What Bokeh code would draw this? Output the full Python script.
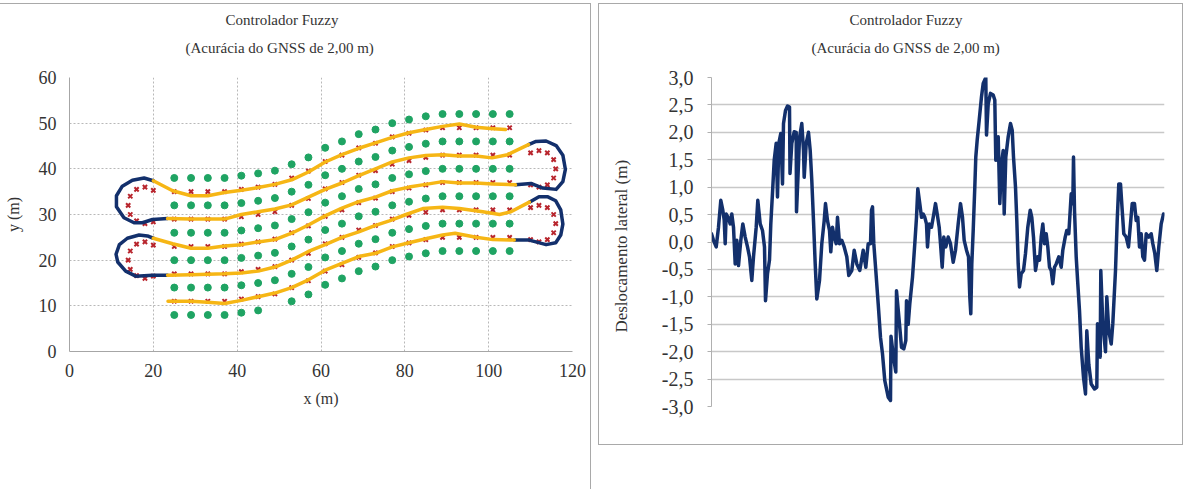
from bokeh.plotting import figure
from bokeh.models import Range1d, FixedTicker, Legend, LegendItem, Title, Div
from bokeh.layouts import column, row
from bokeh.embed import file_html
from bokeh.resources import INLINE

# ---------------- DATA: chart (a) ----------------
tree_cols = [25, 29, 33, 37, 41, 45, 49, 53, 57, 61, 65, 69, 73, 77, 81, 85, 89, 93, 97, 101, 105]
tree_cols_row1 = [25, 29, 33, 37, 41, 45, 53, 57, 61, 65, 69, 73, 77, 81, 85, 89, 93, 97, 101, 105]
trees_row1 = [8, 8, 8, 8, 8.5, 9, 11, 12.5, 14.6, 16, 17.6, 18.6, 20, 20.8, 21.5, 22, 22, 22, 22, 22]
trees_row2 = [14, 14, 14, 14, 14.5, 15, 15.6, 17, 18.5, 20.6, 22, 23.6, 24.6, 26, 26.8, 27.5, 28, 28, 28, 28, 28]
trees_row3 = [20, 20, 20, 20, 20.5, 21, 21.6, 23, 24.5, 26.6, 28, 29.6, 30.6, 32, 32.8, 33.5, 34, 34, 34, 34, 34]
trees_row4 = [26, 26, 26, 26, 26.5, 27, 27.6, 29, 30.5, 32.6, 34, 35.6, 36.6, 38, 38.8, 39.5, 40, 40, 40, 40, 40]
trees_row5 = [32, 32, 32, 32, 32.5, 33, 33.6, 35, 36.5, 38.6, 40, 41.6, 42.6, 44, 44.8, 45.5, 46, 46, 46, 46, 46]
trees_row6 = [38, 38, 38, 38, 38.5, 39, 39.6, 41, 42.5, 44.6, 46, 47.6, 48.6, 50, 50.8, 51.5, 52, 52, 52, 52, 52]

ideal_row1 = [11, 11, 11, 11, 11.5, 12, 12.6, 14, 15.5, 17.6, 19, 20.6, 21.6, 23, 23.8, 24.5, 25, 25, 25, 25, 25]
ideal_row2 = [17, 17, 17, 17, 17.5, 18, 18.6, 20, 21.5, 23.6, 25, 26.6, 27.6, 29, 29.8, 30.5, 31, 31, 31, 31, 31]
ideal_row3 = [23, 23, 23, 23, 23.5, 24, 24.6, 26, 27.5, 29.6, 31, 32.6, 33.6, 35, 35.8, 36.5, 37, 37, 37, 37, 37]
ideal_row4 = [29, 29, 29, 29, 29.5, 30, 30.6, 32, 33.5, 35.6, 37, 38.6, 39.6, 41, 41.8, 42.5, 43, 43, 43, 43, 43]
ideal_row5 = [35, 35, 35, 35, 35.5, 36, 36.6, 38, 39.5, 41.6, 43, 44.6, 45.6, 47, 47.8, 48.5, 49, 49, 49, 49, 49]
turn_left_x = [20, 18, 16, 14.5, 14, 14.5, 16, 18, 20]
turn_left1_y = [16.5, 16, 16.6, 18, 20, 22, 23.5, 24, 23.3]
turn_left2_y = [28.4, 28, 28.6, 30, 32, 34, 35.5, 36, 35.3]
turn_right_x = [110, 112, 114, 115.5, 116, 115.5, 114, 112, 110]
turn_right1_y = [24.5, 24, 24.5, 26, 28, 30, 31.5, 32, 31.5]
turn_right2_y = [36.5, 36, 36.5, 38, 40, 42, 43.5, 44, 43.5]

# Path Tracking (headland turns)
pt_r1_x = [106.1, 109.7, 113.7, 116, 117.2, 117.7, 117.2, 116, 114, 112, 109.7]
pt_r1_y = [24.4, 24.4, 23.4, 23.8, 25.5, 27.9, 31, 33, 33.9, 33.9, 32.7]
pt_l1_x = [23.4, 19.8, 15.8, 13.4, 11.5, 11.1, 11.9, 13.8, 16.6, 18.6, 20]
pt_l1_y = [16.7, 16.7, 16.5, 17.6, 19.6, 21.3, 23.4, 24.8, 25.5, 25.3, 24.8]
pt_r2_x = [106.4, 110.1, 112.9, 116.1, 117.7, 118.3, 117.7, 116.1, 113.7, 111.3, 109.5]
pt_r2_y = [36.5, 36.8, 35.8, 35.5, 37.2, 39.9, 43, 45.1, 46.1, 46, 45.3]
pt_l2_x = [23.4, 19.8, 17.4, 15.4, 13, 11.2, 11.2, 12.6, 15, 17.8, 20]
pt_l2_y = [29.1, 28.9, 28.2, 28.2, 29.3, 31.7, 34.1, 36.2, 37.5, 38, 37.4]

# Crop Feeler (inside the rows)
cf_a_x = [23.5, 29, 33, 37, 41, 45, 49, 53, 57, 61, 65, 69, 73, 77, 81, 85, 89, 92, 97, 101, 106.1]
cf_a_y = [11, 11, 10.8, 10.5, 11.2, 12, 12.8, 14, 15.7, 17.8, 19.3, 20.8, 21.5, 22.9, 23.8, 24.7, 25.5, 25.9, 25, 24.5, 24.4]
cf_b_x = [109.7, 105.3, 102.6, 98.6, 93, 89, 84.3, 80.3, 76.3, 73, 69, 65, 61, 57, 53, 49, 45, 41, 37, 33, 29, 23.4]
cf_b_y = [32.7, 30.6, 30, 30.6, 31.3, 31.6, 31.3, 30, 28.6, 27.6, 26.2, 25, 23.4, 21.9, 20, 18.5, 17.6, 17.2, 17, 16.9, 16.8, 16.7]
cf_c_x = [20, 24.6, 29, 33, 37, 41, 45, 49, 53, 57, 61, 65, 69, 73, 77, 81, 85, 89, 93, 97, 101, 106.4]
cf_c_y = [24.8, 23.6, 22.6, 22.6, 23.1, 23.4, 24, 24.5, 25.9, 27.7, 29.7, 31.4, 32.8, 33.8, 35.2, 36, 36.6, 37.2, 36.9, 36.9, 36.7, 36.5]
cf_d_x = [109.5, 104.5, 100.8, 97, 93, 89, 85, 81, 77, 73, 69, 65, 61, 57, 53, 49, 45, 41, 37, 33, 29, 23.4]
cf_d_y = [45.3, 43.1, 42.4, 42.8, 42.8, 43.1, 42.9, 42.4, 41.5, 40, 38.5, 36.9, 35.5, 33.8, 32.1, 31.2, 30.6, 30, 29, 29, 29, 29.1]
cf_e_x = [20, 24.6, 29, 33, 37, 41, 45, 49, 53, 57, 61, 65, 69, 73, 77, 81, 85, 89, 93, 97, 101, 104]
cf_e_y = [37.4, 35.2, 34.1, 34.1, 34.8, 35.3, 35.9, 36.6, 37.6, 39.3, 41.5, 43.1, 44.5, 45.7, 46.9, 47.9, 48.6, 49.3, 49.8, 49.1, 48.8, 48.6]

x_ticks_a = [0, 20, 40, 60, 80, 100, 120]
y_ticks_a = [0, 10, 20, 30, 40, 50, 60]
legend_labels_a = ["Árvores", "Caminho ideal", "Path Tracking", "Crop Feeler"]

# ---------------- DATA: chart (b) ----------------
amostra = [0, 2, 4.7, 7, 9.3, 11.3, 12.7, 13.7, 14.7, 17, 18.7, 20.3, 22, 23.7, 25.3, 27, 29.3, 31.3, 33.7, 36,
           38, 40.3, 42, 44.7, 46.3, 48.7, 51, 53, 54, 56, 58, 59.3, 61.3, 62.7, 64.7, 66, 67.3, 69.3, 71, 72,
           74, 76, 78, 78.5, 80.3, 82.7, 84.7, 85, 86.5, 88, 90.3, 92, 92.7, 94.7, 97, 98.7, 100.3, 102, 103.7, 105.3,
           108, 110.3, 112.7, 114, 116, 118, 119.3, 121, 122.7, 124.7, 126, 128, 130.3, 132.7, 135.3, 137.3, 140.3, 142.7, 145.3, 148.3,
           151.7, 154.3, 156.7, 159, 160, 161, 162.3, 164.3, 166.7, 169, 171, 173.3, 176.7, 179, 179.5, 182, 184.3, 185, 188, 190,
           192.3, 194.3, 195, 196.7, 198.3, 201, 203.3, 205, 206.3, 208.3, 210, 211.7, 213.3, 215, 216, 217.7, 220, 222.3, 224, 225.7,
           227.7, 229, 230.7, 232.3, 234.3, 236.7, 239, 241.7, 244, 246.7, 249, 251, 252.7, 255, 257, 258.3, 259.3, 260.3, 261.7, 263.3,
           264.3, 265.7, 267.7, 270, 271.7, 274.3, 275, 276.7, 279, 281.7, 283.3, 284.3, 286.7, 288.3, 290, 291.7, 292.7, 294.3, 296.7, 299,
           300.7, 302, 304, 305.3, 306.7, 308, 309.7, 312, 314, 316.3, 318.7, 320.3, 322, 324, 326.3, 328, 329.7, 331.3, 333, 334.7,
           336.3, 338, 339.7, 341.3, 343, 344.7, 347.3, 349.7, 351.3, 353.7, 355.3, 357.3, 359.7, 361.3, 362, 363, 364.7, 366.3, 368, 369.7,
           372, 374, 375.3, 377.3, 379.7, 383, 385.3, 386, 388, 388.7, 389.3, 391.3, 394, 395.3, 397.3, 399.7, 401.3, 404, 405.7, 407.3,
           409, 410.7, 412.3, 414.7, 417, 418.7, 420.7, 423, 424.7, 426.3, 428, 429.7, 431.3, 433, 434.7, 437.3, 439.7, 441.3, 443.3, 445.3,
           447.3, 449.7, 452]
deslocamento = [0.15, 0.03, -0.09, 0.27, 0.76, 0.58, 0.40, -0.03, 0.51, 0.43, 0.33, 0.51, 0.27, -0.40, 0.03, -0.43, 0.03, 0.33, 0.09, -0.09,
                -0.27, -0.70, -0.27, 0.27, 0.76, 0.33, 0.21, -0.09, -1.07, -0.58, -0.33, 0.33, 1.0, 1.49, 1.80, 0.82, 1.80, 1.98, 1.06, 2.16,
                2.40, 2.48, 2.46, 1.25, 1.80, 2.01, 2.0, 0.55, 1.2, 1.9, 2.16, 1.67, 1.18, 1.80, 2.0, 1.67, 1.12, 0.39, -0.40, -1.04,
                -0.70, -0.03, 0.39, 0.70, 0.39, 0.21, -0.18, 0.27, 0.09, -0.03, 0.45, -0.03, 0.03, -0.09, -0.27, -0.61, -0.52, -0.15, -0.40, -0.52,
                -0.15, -0.46, -0.03, -0.03, 0.58, 0.64, -0.03, -0.52, -1.13, -1.74, -2.04, -2.53, -2.83, -2.89, -1.72, -2.10, -2.37, -0.89, -1.50, -1.92,
                -1.95, -1.80, -1.07, -1.50, -1.13, -0.64, -0.03, 0.45, 0.97, 0.70, 0.45, 0.51, 0.45, 0.33, -0.09, 0.33, 0.27, 0.51, 0.70, 0.51,
                0.27, -0.03, -0.46, 0.09, -0.09, 0.09, -0.03, -0.37, -0.15, 0.33, 0.70, 0.45, 0.03, -0.15, -0.27, -1.0, -1.31, -0.40, 0.21, 1.0,
                1.55, 1.86, 2.22, 2.65, 2.89, 3.0, 1.95, 2.52, 2.71, 2.68, 2.59, 1.49, 1.92, 0.70, 1.43, 1.67, 0.51, 1.55, 1.92, 2.16,
                2.04, 1.55, 1.0, 0.39, -0.40, -0.82, -0.58, -0.52, -0.21, 0.27, 0.58, 0.45, 0.09, -0.52, -0.27, -0.33, 0.09, 0.33, -0.03, 0.15,
                -0.09, -0.46, -0.52, -0.76, -0.46, -0.40, -0.27, -0.46, -0.15, 0.09, 0.21, 0.15, 0.88, 0.70, 1.55, 0.58, -0.27, -0.76, -1.25, -1.92,
                -2.47, -2.77, -1.62, -2.23, -2.59, -2.68, -2.65, -1.49, -1.92, -2.10, -0.52, -1.49, -2.0, -1.0, -1.62, -1.86, -1.49, -0.52, 0.39, 1.06,
                1.06, 0.58, 0.15, 0.09, -0.09, 0.27, 0.70, 0.70, 0.39, 0.45, -0.09, 0.15, -0.27, -0.33, 0.15, 0.09, 0.15, -0.03, -0.21, -0.52,
                -0.09, 0.33, 0.51]
y_ticks_b = [-3.0, -2.5, -2.0, -1.5, -1.0, -0.5, 0.0, 0.5, 1.0, 1.5, 2.0, 2.5, 3.0]
y_tick_labels_b = ["-3,0", "-2,5", "-2,0", "-1,5", "-1,0", "-0,5", "0,0", "0,5", "1,0", "1,5", "2,0", "2,5", "3,0"]

title_line1 = "Controlador Fuzzy"
title_line2 = "(Acurácia  do  GNSS de 2,00 m)"

# ---------------- STYLE ----------------
SERIF = "Liberation Serif"
TXT = "#333333"
GREEN = "#1fa463"
RED = "#b8252d"
NAVY = "#13306c"
YELLOW = "#f6b615"
BOX = {"outline": "1px solid #a9a9a9", "outline-offset": "0px"}


def add_titles(p, off1, off2):
    spacer = Title(text=" ", align="left", text_font=SERIF, text_font_size="5px")
    t2 = Title(text=title_line2, align="left", offset=off2, text_font=SERIF,
               text_font_size="15px", text_font_style="normal", text_color=TXT)
    t1 = Title(text=title_line1, align="left", offset=off1, text_font=SERIF,
               text_font_size="15px", text_font_style="normal", text_color=TXT)
    p.add_layout(spacer, "above")
    p.add_layout(t2, "above")
    p.add_layout(t1, "above")


# ---------------- FIGURE (a) ----------------
pa = figure(frame_width=503, frame_height=274, x_range=Range1d(0, 120), y_range=Range1d(0, 60),
            output_backend="svg", toolbar_location=None, title=None,
            min_border_left=69, min_border_right=18, min_border_top=73, min_border_bottom=93)
pa.outline_line_color = None
pa.styles = BOX
add_titles(pa, 156, 116)

for ax in (pa.xaxis, pa.yaxis):
    ax.axis_line_color = "#a6a6a6"
    ax.major_tick_line_color = None
    ax.minor_tick_line_color = None
    ax.major_tick_out = 0
    ax.major_label_text_font = SERIF
    ax.major_label_text_font_size = "18px"
    ax.major_label_text_color = TXT
    ax.axis_label_text_font = SERIF
    ax.axis_label_text_font_size = "16px"
    ax.axis_label_text_font_style = "normal"
    ax.axis_label_text_color = TXT
pa.xaxis.ticker = FixedTicker(ticks=x_ticks_a)
pa.yaxis.ticker = FixedTicker(ticks=y_ticks_a)
pa.xaxis.axis_label = "x (m)"
pa.yaxis.axis_label = "y (m)"
pa.xaxis.major_label_standoff = 12
pa.yaxis.major_label_standoff = 13
pa.xaxis.axis_label_standoff = 10
pa.yaxis.axis_label_standoff = 14
for g in (pa.xgrid, pa.ygrid):
    g.grid_line_color = "#b8b8b8"
    g.grid_line_dash = "2 2"
    g.grid_line_width = 1

tree_x = tree_cols_row1 + tree_cols * 5
tree_y = trees_row1 + trees_row2 + trees_row3 + trees_row4 + trees_row5 + trees_row6
r_trees = pa.scatter(tree_x, tree_y, marker="circle", size=7, fill_color=GREEN, line_color=GREEN)

ideal_x = tree_cols * 5 + turn_left_x * 2 + turn_right_x * 2
ideal_y = (ideal_row1 + ideal_row2 + ideal_row3 + ideal_row4 + ideal_row5
           + turn_left1_y + turn_left2_y + turn_right1_y + turn_right2_y)
r_ideal = pa.scatter(ideal_x, ideal_y, marker="x", size=6, line_color=RED, line_width=2)

pt_sets = [(pt_r1_x, pt_r1_y), (pt_l1_x, pt_l1_y), (pt_r2_x, pt_r2_y), (pt_l2_x, pt_l2_y)]
for xs, ys in pt_sets:
    pa.line(xs, ys, line_color=NAVY, line_width=3.5, line_join="round", line_cap="round")
r_pt = pa.scatter(sum([s[0] for s in pt_sets], []), sum([s[1] for s in pt_sets], []),
                  marker="dot", size=6, line_color=NAVY, fill_color=NAVY)

cf_sets = [(cf_a_x, cf_a_y), (cf_b_x, cf_b_y), (cf_c_x, cf_c_y), (cf_d_x, cf_d_y), (cf_e_x, cf_e_y)]
for xs, ys in cf_sets:
    pa.line(xs, ys, line_color=YELLOW, line_width=3.5, line_join="round", line_cap="round")
r_cf = pa.scatter(sum([s[0] for s in cf_sets], []), sum([s[1] for s in cf_sets], []),
                  marker="dot", size=6, line_color=YELLOW, fill_color=YELLOW)

legend = Legend(items=[LegendItem(label=legend_labels_a[0], renderers=[r_trees]),
                       LegendItem(label=legend_labels_a[1], renderers=[r_ideal]),
                       LegendItem(label=legend_labels_a[2], renderers=[r_pt]),
                       LegendItem(label=legend_labels_a[3], renderers=[r_cf])],
                orientation="horizontal", location="center",
                label_text_font=SERIF, label_text_font_size="16px", label_text_color=TXT,
                glyph_width=14, glyph_height=14, spacing=18, label_standoff=3,
                padding=2, margin=2, border_line_color=None, background_fill_alpha=0)
pa.add_layout(legend, "below")

# ---------------- FIGURE (b) ----------------
pb = figure(frame_width=453, frame_height=329, x_range=Range1d(0, 453), y_range=Range1d(-3, 3),
            output_backend="svg", toolbar_location=None, title=None,
            min_border_left=112, min_border_right=18, min_border_top=73, min_border_bottom=38)
pb.outline_line_color = None
pb.styles = BOX
add_titles(pb, 138, 100)
pb.xaxis.visible = False
pb.xgrid.visible = False
pb.ygrid.grid_line_color = "#c8c8c8"
pb.ygrid.grid_line_width = 1.5
pb.yaxis.ticker = FixedTicker(ticks=y_ticks_b)
pb.yaxis.major_label_overrides = {t: s for t, s in zip(y_ticks_b, y_tick_labels_b)}
pb.yaxis.axis_line_color = "#b0b0b0"
pb.yaxis.major_tick_line_color = "#b0b0b0"
pb.yaxis.major_tick_out = 4
pb.yaxis.major_tick_in = 0
pb.yaxis.minor_tick_line_color = None
pb.yaxis.major_label_standoff = 14
pb.yaxis.major_label_text_font = SERIF
pb.yaxis.major_label_text_font_size = "20px"
pb.yaxis.major_label_text_color = TXT
pb.yaxis.axis_label = "Deslocamento  lateral  (m)"
pb.yaxis.axis_label_text_font = SERIF
pb.yaxis.axis_label_text_font_size = "17px"
pb.yaxis.axis_label_text_font_style = "normal"
pb.yaxis.axis_label_text_color = TXT
pb.yaxis.axis_label_standoff = 28

pb.line(amostra, deslocamento, line_color=NAVY, line_width=3.5, line_join="round", line_cap="round")

# ---------------- captions ----------------
cap_style = {"text-align": "center", "font-family": "'Liberation Sans', Arial, sans-serif",
             "font-size": "23px", "line-height": "26px", "color": "#000000"}
cap_a = Div(text="(a)", width=590, height=24, styles=cap_style)
cap_b = Div(text="(b)", width=583, height=24, styles=cap_style)

layout = column(row(pa, pb, spacing=9), row(cap_a, cap_b, spacing=9),
                styles={"margin-top": "4px"})

open("out.html", "w").write(file_html(layout, INLINE))
